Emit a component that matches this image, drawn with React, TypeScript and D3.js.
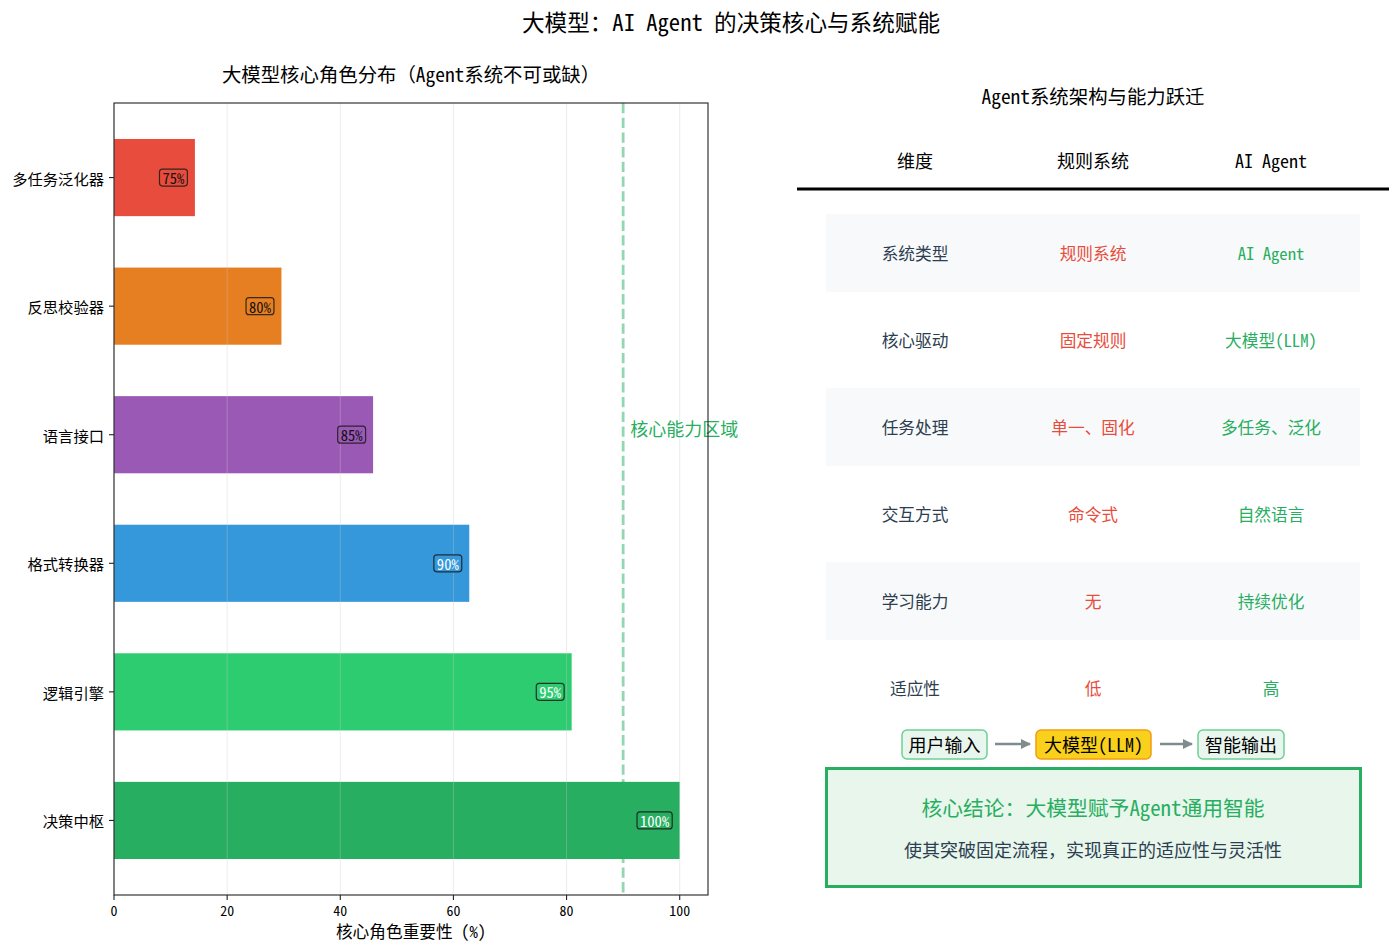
import React from "react";
import * as d3 from "d3";

const FONT = "'Noto Sans Mono CJK SC', 'Noto Sans CJK SC', sans-serif";

// Left chart data (bottom to top)
const categories = ["决策中枢", "逻辑引擎", "格式转换器", "语言接口", "反思校验器", "多任务泛化器"];
const values = [100, 80.9, 62.8, 45.8, 29.6, 14.3];
const valueLabels = ["100%", "95%", "90%", "85%", "80%", "75%"];
const barColors = ["#27ae60", "#2ecc71", "#3498db", "#9b59b6", "#e67e22", "#e74c3c"];
const labelTextColors = ["#ffffff", "#ffffff", "#ffffff", "#111111", "#111111", "#111111"];
const xTicks = [0, 20, 40, 60, 80, 100];
const thresholdValue = 90;

// Right table data
const tableHeaders = ["维度", "规则系统", "AI Agent"];
const dimensions = ["系统类型", "核心驱动", "任务处理", "交互方式", "学习能力", "适应性"];
const ruleSystem = ["规则系统", "固定规则", "单一、固化", "命令式", "无", "低"];
const aiAgent = ["AI Agent", "大模型(LLM)", "多任务、泛化", "自然语言", "持续优化", "高"];
const flowSteps = ["用户输入", "大模型(LLM)", "智能输出"];

export default function App() {
  const W = 1400, H = 949;
  const x = d3.scaleLinear().domain([0, 105]).range([114, 708]);
  const y = d3.scaleLinear().domain([-0.58, 5.58]).range([895, 103]);
  const barH = y(0) - y(0.6);

  // table scales
  const colX = d3.scaleLinear().domain([0, 2]).range([915, 1271]);
  const rowY = d3.scaleLinear().domain([0, 5]).range([253, 688]);
  const rowH = 78;
  const flowX = [944.5, 1093.5, 1241];
  const flowW = [85, 115, 86];

  return (
    <svg width={W} height={H} style={{ position: "absolute", left: 0, top: 0, fontFamily: FONT }}>
      <rect width={W} height={H} fill="#fff" />
      <text x={731} y={21} fontSize={22.6} textAnchor="middle" dominantBaseline="central" fill="#000">
        大模型：AI Agent 的决策核心与系统赋能
      </text>

      {/* Left chart */}
      <text x={411} y={73} fontSize={19.4} textAnchor="middle" dominantBaseline="central" fill="#000">
        大模型核心角色分布（Agent系统不可或缺）
      </text>
      {categories.map((c, i) => (
        <rect key={"b" + i} x={x(0)} y={y(i) - barH / 2} width={x(values[i]) - x(0)} height={barH}
          fill={barColors[i]} />
      ))}
      {xTicks.map((t) => (
        <line key={"g" + t} x1={x(t)} x2={x(t)} y1={103} y2={895} stroke="#c8c8c8" strokeOpacity={0.35} strokeWidth={1} />
      ))}
      {categories.map((c, i) => {
        const w = valueLabels[i].length * 7.3 + 6;
        const right = x(values[i]) - 7.5;
        return (
          <g key={"l" + i}>
            <rect x={right - w} y={y(i) - 8.5} width={w} height={17} rx={3} fill={barColors[i]}
              stroke="#1a1a1a" strokeOpacity={0.85} strokeWidth={1.2} />
            <text x={right - w / 2} y={y(i)} fontSize={14.6} textAnchor="middle" dominantBaseline="central"
              fill={labelTextColors[i]}>{valueLabels[i]}</text>
          </g>
        );
      })}
      <line x1={x(thresholdValue)} x2={x(thresholdValue)} y1={103} y2={895} stroke="#27ae60" strokeOpacity={0.5}
        strokeWidth={2.8} strokeDasharray="10.3,4.4" />
      <text x={x(thresholdValue) + 7} y={y(3.05)} fontSize={18} dominantBaseline="central" fill="#27ae60">核心能力区域</text>
      <rect x={114} y={103} width={594} height={792} fill="none" stroke="#222" strokeWidth={1.1} />
      {categories.map((c, i) => (
        <g key={"yt" + i}>
          <line x1={109} x2={114} y1={y(i)} y2={y(i)} stroke="#222" strokeWidth={1.1} />
          <text x={104} y={y(i)} fontSize={15.3} textAnchor="end" dominantBaseline="central" fill="#000">{c}</text>
        </g>
      ))}
      {xTicks.map((t) => (
        <g key={"xt" + t}>
          <line x1={x(t)} x2={x(t)} y1={895} y2={900} stroke="#222" strokeWidth={1.1} />
          <text x={x(t)} y={910} fontSize={13.9} textAnchor="middle" dominantBaseline="central" fill="#000">{t}</text>
        </g>
      ))}
      <text x={411} y={931} fontSize={16.7} textAnchor="middle" dominantBaseline="central" fill="#000">核心角色重要性 (%)</text>

      {/* Right panel */}
      <text x={1093} y={95} fontSize={19.4} textAnchor="middle" dominantBaseline="central" fill="#000">
        Agent系统架构与能力跃迁
      </text>
      {tableHeaders.map((h, j) => (
        <text key={"h" + j} x={colX(j)} y={159.5} fontSize={18} textAnchor="middle" dominantBaseline="central" fill="#000">{h}</text>
      ))}
      <line x1={797} x2={1389} y1={189} y2={189} stroke="#000" strokeWidth={3} />
      {dimensions.map((d, i) => (
        <g key={"r" + i}>
          {i % 2 === 0 && (
            <rect x={826} y={rowY(i) - rowH / 2} width={534} height={rowH} fill="#f8f9fa" />
          )}
          <text x={colX(0)} y={rowY(i)} fontSize={16.7} textAnchor="middle" dominantBaseline="central" fill="#2c3e50">{d}</text>
          <text x={colX(1)} y={rowY(i)} fontSize={16.7} textAnchor="middle" dominantBaseline="central" fill="#e74c3c">{ruleSystem[i]}</text>
          <text x={colX(2)} y={rowY(i)} fontSize={16.7} textAnchor="middle" dominantBaseline="central" fill="#27ae60">{aiAgent[i]}</text>
        </g>
      ))}

      {/* Flow */}
      <defs>
        <marker id="arr" viewBox="0 0 10 10" refX={9} refY={5} markerWidth={4} markerHeight={4} orient="auto">
          <path d="M0,0 L10,5 L0,10 z" fill="#7f8c8d" />
        </marker>
      </defs>
      {flowSteps.map((s, k) => {
        const yellow = k === 1;
        return (
          <g key={"f" + k}>
            <rect x={flowX[k] - flowW[k] / 2} y={730} width={flowW[k]} height={29} rx={5}
              fill={yellow ? "#f9d01c" : "#e8f6ee"} stroke={yellow ? "#f39c12" : "#6fcf97"} strokeWidth={1.5} />
            <text x={flowX[k]} y={744} fontSize={18} textAnchor="middle" dominantBaseline="central" fill="#000">{s}</text>
          </g>
        );
      })}
      <line x1={995} x2={1030} y1={744} y2={744} stroke="#7f8c8d" strokeWidth={2.5} markerEnd="url(#arr)" />
      <line x1={1160} x2={1192} y1={744} y2={744} stroke="#7f8c8d" strokeWidth={2.5} markerEnd="url(#arr)" />

      {/* Conclusion */}
      <rect x={826.5} y={768.5} width={534} height={118} fill="#e8f6ec" stroke="#27ae60" strokeWidth={3} />
      <text x={1093} y={807} fontSize={20.8} textAnchor="middle" dominantBaseline="central" fill="#27ae60">
        核心结论：大模型赋予Agent通用智能
      </text>
      <text x={1093} y={848.5} fontSize={18} textAnchor="middle" dominantBaseline="central" fill="#2c3e50">
        使其突破固定流程，实现真正的适应性与灵活性
      </text>
    </svg>
  );
}
